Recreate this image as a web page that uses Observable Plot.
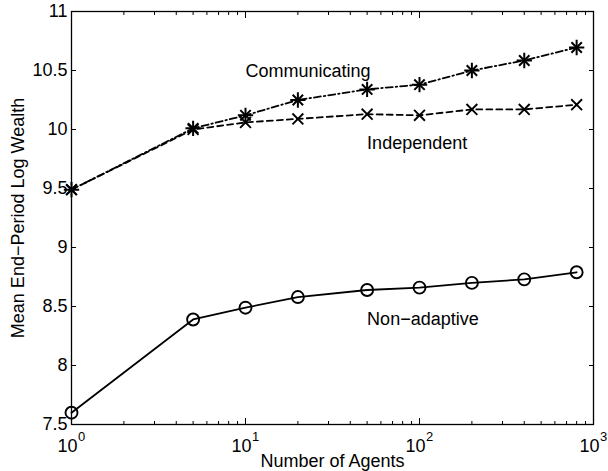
<!DOCTYPE html>
<html>
<head>
<meta charset="utf-8">
<script src="https://cdn.jsdelivr.net/npm/d3@7"></script>
<script src="https://cdn.jsdelivr.net/npm/@observablehq/plot@0.6"></script>
<style>
  body { margin: 0; background: #fff; }
</style>
</head>
<body>
<div id="chart"></div>
<script>
const agents = [1, 5, 10, 20, 50, 100, 200, 400, 800];
const communicating = [9.49, 10.01, 10.12, 10.25, 10.34, 10.38, 10.50, 10.585, 10.695];
const independent = [9.49, 10.00, 10.06, 10.09, 10.13, 10.12, 10.17, 10.17, 10.21];
const nonAdaptive = [7.60, 8.39, 8.49, 8.58, 8.64, 8.66, 8.70, 8.73, 8.79];

const seriesNames = ["Communicating", "Independent", "Non\u2212adaptive"];
const labelX = [10.0, 50, 50];
const labelY = [10.49, 9.88, 8.39];

const xMajor = [1, 10, 100, 1000];
const xExponents = ["0", "1", "2", "3"];
const xMinor = [2, 3, 4, 5, 6, 7, 8, 9, 20, 30, 40, 50, 60, 70, 80, 90, 200, 300, 400, 500, 600, 700, 800, 900];
const yTicks = [7.5, 8, 8.5, 9, 9.5, 10, 10.5, 11];

const xTitle = "Number of Agents";
const yTitle = "Mean End\u2212Period Log Wealth";

const toRows = (vals) => agents.map((a, i) => ({x: a, y: vals[i]}));
const comm = toRows(communicating);
const indep = toRows(independent);
const nonad = toRows(nonAdaptive);
const labels = seriesNames.map((s, i) => ({name: s, x: labelX[i], y: labelY[i]}));
const exps = xMajor.map((v, i) => ({x: v, e: xExponents[i]}));

const FS = 18;
const chart = Plot.plot({
  width: 608,
  height: 471,
  marginLeft: 71,
  marginRight: 15,
  marginTop: 11,
  marginBottom: 47,
  style: {fontFamily: "'Liberation Sans', Arial, Helvetica, sans-serif", fontSize: FS + "px", color: "#000", background: "#fff"},
  x: {type: "log", domain: [1, 1000]},
  y: {domain: [7.5, 11]},
  marks: [
    // inward ticks
    Plot.axisX(xMajor, {anchor: "bottom", tickSize: -6, tickFormat: () => "", stroke: "#000", label: null}),
    Plot.axisX(xMinor, {anchor: "bottom", tickSize: -3, tickFormat: () => "", stroke: "#000", label: null}),
    Plot.axisX(xMajor, {anchor: "top", tickSize: -6, tickFormat: () => "", stroke: "#000", label: null}),
    Plot.axisX(xMinor, {anchor: "top", tickSize: -3, tickFormat: () => "", stroke: "#000", label: null}),
    Plot.axisY(yTicks, {anchor: "left", tickSize: -5, tickFormat: () => "", stroke: "#000", label: null}),
    Plot.axisY(yTicks, {anchor: "right", tickSize: -5, tickFormat: () => "", stroke: "#000", label: null}),
    // tick labels
    Plot.axisY(yTicks, {anchor: "left", tickSize: 0, tickPadding: 4, tickFormat: d => String(d), fill: "#000", label: null, fontSize: FS}),
    Plot.text(exps, {x: "x", y: 7.5, text: () => "10", dy: 22, dx: -4, fill: "#000", fontSize: FS, clip: false}),
    Plot.text(exps, {x: "x", y: 7.5, text: "e", dy: 12, dx: 6.5, textAnchor: "start", fill: "#000", fontSize: 13, clip: false}),
    Plot.frame({stroke: "#000", strokeWidth: 1.3}),
    // lines
    Plot.line(comm, {x: "x", y: "y", stroke: "#000", strokeWidth: 1.8, strokeDasharray: "7,3,1.5,3"}),
    Plot.line(indep, {x: "x", y: "y", stroke: "#000", strokeWidth: 1.8, strokeDasharray: "6,4"}),
    Plot.line(nonad, {x: "x", y: "y", stroke: "#000", strokeWidth: 1.8}),
    // markers
    Plot.dot(comm, {x: "x", y: "y", symbol: "plus", r: 5, stroke: "#000", strokeWidth: 2}),
    Plot.dot(comm, {x: "x", y: "y", symbol: "times", r: 4.8, stroke: "#000", strokeWidth: 2}),
    Plot.dot(indep, {x: "x", y: "y", symbol: "times", r: 5, stroke: "#000", strokeWidth: 1.9}),
    Plot.dot(nonad, {x: "x", y: "y", symbol: "circle", r: 6, stroke: "#000", fill: "none", strokeWidth: 1.9}),
    // series labels
    Plot.text(labels, {x: "x", y: "y", text: "name", textAnchor: "start", fill: "#000", fontSize: FS}),
    // axis titles
    Plot.text([xTitle], {frameAnchor: "bottom", dy: 42, textAnchor: "middle", fill: "#000", fontSize: FS, clip: false}),
    Plot.text([yTitle], {frameAnchor: "left", dx: -53, rotate: -90, textAnchor: "middle", fill: "#000", fontSize: FS, clip: false})
  ]
});
document.getElementById("chart").appendChild(chart);
</script>
</body>
</html>
